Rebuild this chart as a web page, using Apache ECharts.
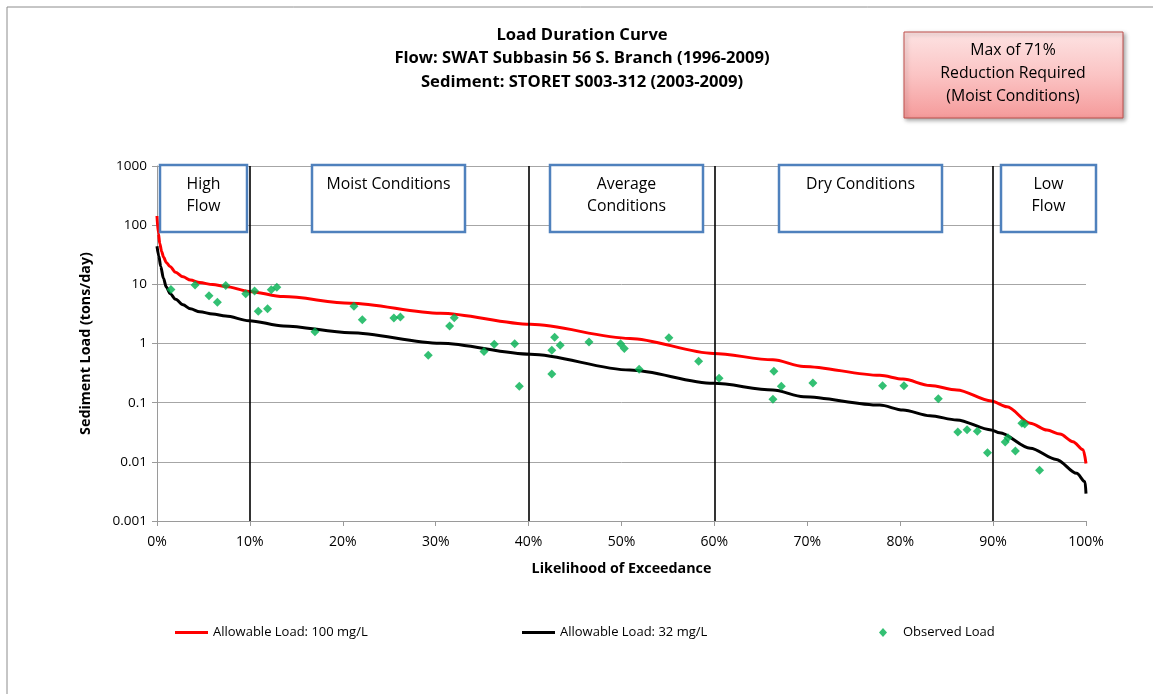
<!DOCTYPE html>
<html>
<head>
<meta charset="utf-8">
<script src="https://cdn.jsdelivr.net/npm/echarts@6/dist/echarts.min.js"></script>
<style>
html,body{margin:0;padding:0;background:#fff;}
#chart{width:1153px;height:694px;}
</style>
</head>
<body>
<div id="chart"></div>
<script>
// ---- data ----
const titleLines = ['Load Duration Curve', 'Flow: SWAT Subbasin 56 S. Branch (1996-2009)', 'Sediment: STORET S003-312 (2003-2009)'];
const noteLines = ['Max of 71%', 'Reduction Required', '(Moist Conditions)'];
const seriesNames = ['Allowable Load: 100 mg/L', 'Allowable Load: 32 mg/L', 'Observed Load'];
const zoneBounds = [10, 40, 60, 90];
const yTicks = [0.001, 0.01, 0.1, 1, 10, 100, 1000];

// Allowable load 100 mg/L: [exceedance %, tons/day]
const red100 = [
  [0, 143], [0.15, 72], [0.3, 49], [0.5, 36], [0.7, 29], [1.0, 23.5], [1.4, 20], [2.0, 16], [2.8, 13.4],
  [3.6, 11.8], [4.6, 10.7], [6.0, 9.9], [7.4, 9.2], [9.9, 7.6], [13.6, 6.2], [20.8, 4.8], [30.5, 3.24],
  [40.2, 2.11], [50.9, 1.22], [59.9, 0.68], [66.3, 0.53], [69.6, 0.41], [77.8, 0.29], [80.3, 0.25],
  [83.2, 0.195], [86.1, 0.164], [89.8, 0.107], [91.5, 0.085], [94, 0.045], [95.8, 0.0345],
  [97.2, 0.0295], [98.6, 0.0219], [99.7, 0.016], [100, 0.0094]
];
// Allowable load 32 mg/L
const black32 = [
  [0, 44], [0.2, 30], [0.4, 20], [0.7, 12.5], [1.0, 9.0], [1.4, 7.0], [2.0, 5.6], [2.8, 4.5], [3.6, 3.85],
  [4.6, 3.44], [6.0, 3.15], [7.4, 2.92], [9.9, 2.43], [13.6, 1.98], [20.8, 1.52], [30.5, 1.01], [40.2, 0.66],
  [50.9, 0.356], [59.9, 0.212], [66.3, 0.164], [69.6, 0.126], [77.8, 0.091], [80.3, 0.075], [83.2, 0.06],
  [86.1, 0.051], [89.8, 0.0345], [90.7, 0.031], [94, 0.017], [96.8, 0.011], [99, 0.0064], [99.9, 0.0046],
  [100, 0.0029]
];
// Observed load
const observed = [
  [1.5, 8.2], [4.1, 9.75], [5.6, 6.4], [6.5, 5.0], [7.4, 9.6], [9.55, 6.95], [10.5, 7.7], [10.9, 3.5],
  [11.9, 3.87], [12.3, 8.1], [12.9, 8.9], [17.0, 1.58], [21.2, 4.25], [22.1, 2.52], [25.5, 2.7], [26.2, 2.8],
  [29.2, 0.63], [31.5, 1.98], [32.0, 2.73], [35.2, 0.73], [36.3, 0.97], [38.5, 0.99], [39.0, 0.19],
  [42.8, 1.27], [42.5, 0.77], [43.4, 0.93], [42.5, 0.305], [46.5, 1.06], [49.9, 0.99], [50.3, 0.82],
  [51.9, 0.366], [55.1, 1.25], [58.3, 0.5], [60.5, 0.258], [66.4, 0.339], [67.2, 0.189], [66.3, 0.114],
  [70.6, 0.215], [78.1, 0.194], [80.4, 0.194], [84.1, 0.117], [86.2, 0.032], [87.2, 0.035], [88.3, 0.033],
  [89.4, 0.0143], [91.3, 0.0216], [91.6, 0.0256], [92.4, 0.0152], [93.1, 0.045], [93.4, 0.0436], [95.0, 0.0072]
];
const zoneBoxes = [
  {label: 'High\nFlow', x: 160, w: 87},
  {label: 'Moist Conditions', x: 312, w: 153},
  {label: 'Average\nConditions', x: 550, w: 153},
  {label: 'Dry Conditions', x: 779, w: 163},
  {label: 'Low\nFlow', x: 1001, w: 95}
];

const FONT = '"Open Sans", "Liberation Sans", sans-serif';
const chart = echarts.init(document.getElementById('chart'), null, {renderer: 'canvas'});

const graphics = [];
graphics.push({type: 'rect', shape: {x: 7, y: 7, width: 1160, height: 700}, style: {fill: 'none', stroke: '#8c8c8c', lineWidth: 1}, z: 0, silent: true});
titleLines.forEach((t, i) => {
  graphics.push({type: 'text', x: 582, y: 35 + i * 23.5, style: {text: t, font: 'bold 16.6px ' + FONT, fill: '#000', textAlign: 'center', textVerticalAlign: 'middle'}, z: 10});
});
graphics.push({
  type: 'rect', shape: {x: 904, y: 32, width: 219, height: 86},
  style: {
    fill: new echarts.graphic.LinearGradient(0, 0, 0, 1, [{offset: 0, color: '#fde3e3'}, {offset: 0.5, color: '#fbc4c4'}, {offset: 1, color: '#f59a9a'}]),
    stroke: '#c0504d', lineWidth: 1, shadowBlur: 4, shadowOffsetX: 2, shadowOffsetY: 2, shadowColor: 'rgba(0,0,0,0.35)'
  }, z: 10
});
noteLines.forEach((t, i) => {
  graphics.push({type: 'text', x: 1013, y: 50 + i * 23, style: {text: t, font: '15.8px ' + FONT, fill: '#000', textAlign: 'center', textVerticalAlign: 'middle'}, z: 11});
});
zoneBoxes.forEach(b => {
  graphics.push({type: 'rect', shape: {x: b.x, y: 165, width: b.w, height: 67}, style: {fill: '#fff', stroke: '#4f81bd', lineWidth: 2.5}, z: 20});
  const lines = b.label.split('\n');
  lines.forEach((l, i) => {
    graphics.push({type: 'text', x: b.x + b.w / 2, y: 184 + i * 22, style: {text: l, font: '15.8px ' + FONT, fill: '#000', textAlign: 'center', textVerticalAlign: 'middle'}, z: 21});
  });
});

const legendText = {fontFamily: FONT, fontSize: 13, color: '#000'};
const option = {
  backgroundColor: '#fff',
  animation: false,
  grid: {left: 157, right: 67, top: 166, bottom: 173, containLabel: false},
  legend: [
    {data: [{name: seriesNames[0], icon: 'rect'}], left: 170, top: 621, itemWidth: 33, itemHeight: 3, textStyle: legendText},
    {data: [{name: seriesNames[1], icon: 'rect'}], left: 517, top: 621, itemWidth: 33, itemHeight: 3, textStyle: legendText},
    {data: [{name: seriesNames[2], icon: 'diamond'}], left: 874, top: 621, itemWidth: 8, itemHeight: 9, textStyle: Object.assign({padding: [0, 0, 0, 11]}, legendText)}
  ],
  xAxis: {
    type: 'value', min: 0, max: 100, interval: 10,
    name: 'Likelihood of Exceedance', nameLocation: 'middle', nameGap: 41,
    nameTextStyle: {fontFamily: FONT, fontWeight: 'bold', fontSize: 14.3, color: '#000'},
    axisLine: {show: true, lineStyle: {color: '#9a9a9a', width: 1}},
    axisTick: {show: true, inside: false, length: 5, lineStyle: {color: '#9a9a9a'}},
    axisLabel: {formatter: '{value}%', fontFamily: FONT, fontSize: 14, color: '#000', margin: 14},
    splitLine: {show: false}
  },
  yAxis: {
    type: 'log', logBase: 10, min: yTicks[0], max: yTicks[yTicks.length - 1],
    name: 'Sediment Load (tons/day)', nameLocation: 'middle', nameGap: 64, nameRotate: 90,
    nameTextStyle: {fontFamily: FONT, fontWeight: 'bold', fontSize: 14.3, color: '#000'},
    axisLine: {show: true, lineStyle: {color: '#9a9a9a', width: 1}},
    axisTick: {show: true, inside: false, length: 5, lineStyle: {color: '#9a9a9a'}},
    axisLabel: {fontFamily: FONT, fontSize: 13.5, color: '#000', margin: 10,
      formatter: v => String(Number(Number(v).toPrecision(1)))},
    splitLine: {show: true, lineStyle: {color: '#a6a6a6', width: 1}},
    minorTick: {show: false}
  },
  series: [
    {
      name: seriesNames[0], type: 'line', data: red100, symbol: 'none', smooth: 0.3, smoothMonotone: 'x',
      lineStyle: {color: '#ff0000', width: 3}, itemStyle: {color: '#ff0000'}, z: 3,
      markLine: {
        silent: true, symbol: ['none', 'none'], label: {show: false},
        lineStyle: {color: '#000', width: 1.6, type: 'solid'},
        data: zoneBounds.map(v => ({xAxis: v}))
      }
    },
    {
      name: seriesNames[1], type: 'line', data: black32, symbol: 'none', smooth: 0.3, smoothMonotone: 'x',
      lineStyle: {color: '#000', width: 3}, itemStyle: {color: '#000'}, z: 3
    },
    {
      name: seriesNames[2], type: 'scatter', data: observed, symbol: 'diamond', symbolSize: 9,
      itemStyle: {color: '#00b050'}, z: 4
    }
  ],
  graphic: graphics
};
chart.setOption(option);
</script>
</body>
</html>
